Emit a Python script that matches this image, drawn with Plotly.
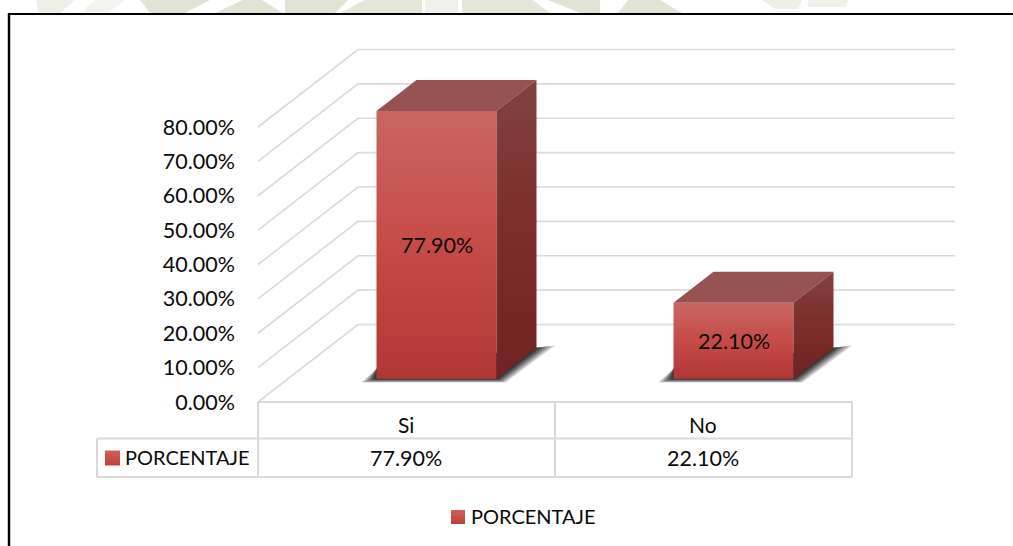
import plotly.graph_objects as go

# ---- data ----
categories = ["Si", "No"]
series_name = "PORCENTAJE"
porcentaje = [77.90, 22.10]
y_ticks = [0, 10, 20, 30, 40, 50, 60, 70, 80]
y_tick_labels = ["0.00%", "10.00%", "20.00%", "30.00%", "40.00%", "50.00%", "60.00%", "70.00%", "80.00%"]

# ---- layout constants ----
W, H = 1013, 546
FONT = "Lato"
FS_NUM = 21.5
FS_WORD = 20
FS_CAT = 21
INK = "#0A0A0A"
GRID = "#DADADA"
CAT_PX = 297.0      # pixels per category
PCT_PX = 3.4375     # pixels per percent
ORIGIN_X, ORIGIN_Y = 258.0, 402.0
DX = 100 / CAT_PX   # oblique projection of the depth axis
DY = 77.5 / PCT_PX
BAR_W = 120 / CAT_PX
D0, D1 = 0.30, 0.70  # depth extent of bars
FRONT = [[0, "#B03735"], [0.5, "#C54B48"], [1, "#C96663"]]
SIDE = [[0, "#6F2322"], [0.55, "#7C2F2C"], [1, "#804340"]]
TOP = "#955250"


def proj(x, y, d):
    return x + d * DX, y + d * DY


def d2x(px):
    return (px - ORIGIN_X) / CAT_PX


def d2y(py):
    return (ORIGIN_Y - py) / PCT_PX


def poly(points, **kw):
    xs = [p[0] for p in points] + [points[0][0]]
    ys = [p[1] for p in points] + [points[0][1]]
    return go.Scatter(x=xs, y=ys, mode="lines", fill="toself", line=dict(width=0),
                      hoverinfo="skip", showlegend=False, **kw)


fig = go.Figure()

# ---- gridlines on back wall and side wall ----
gx, gy = [], []
x_end = len(categories) + 0.01
for t in y_ticks:
    a = proj(0, t, 0)
    b = proj(0, t, 1)
    c = proj(x_end, t, 1)
    gx += [a[0], b[0], c[0], None]
    gy += [a[1], b[1], c[1], None]
fig.add_trace(go.Scatter(x=gx, y=gy, mode="lines", line=dict(color=GRID, width=1.6),
                         hoverinfo="skip", showlegend=False))

# ---- bars ----
sh_px = 1 / CAT_PX
sh_py = 1 / PCT_PX
for i, v in enumerate(porcentaje):
    x0 = i + 0.5 - BAR_W / 2
    x1 = i + 0.5 + BAR_W / 2
    fl = proj(x0, 0, D0)
    fr = proj(x1, 0, D0)
    br = proj(x1, 0, D1)
    # soft shadow on the floor: nested translucent polygons
    for grow, alpha in [(1.1, 0.2), (0.9, 0.25), (0.7, 0.3), (0.5, 0.4), (0.3, 0.5), (0.15, 0.55)]:
        fig.add_trace(poly([
            (fl[0] - 14 * grow * sh_px, fl[1] - 3.5 * grow * sh_py),
            (fl[0], fl[1] + 10 * sh_py),
            (br[0], br[1]),
            (br[0] + 17 * grow * sh_px, br[1] + 2 * grow * sh_py),
            (fr[0] + 8 * grow * sh_px, fr[1] - 3.5 * grow * sh_py),
        ], fillcolor=f"rgba(45,45,45,{alpha})"))
    # top face
    fig.add_trace(poly([proj(x0, v, D0), proj(x1, v, D0), proj(x1, v, D1), proj(x0, v, D1)],
                       fillcolor=TOP))
    # front face
    fig.add_trace(poly([proj(x0, 0, D0), proj(x1, 0, D0), proj(x1, v, D0), proj(x0, v, D0)],
                       fillgradient=dict(type="vertical", colorscale=FRONT)))
    # side face, over the front edge
    fig.add_trace(poly([proj(x1, 0, D0), proj(x1, 0, D1), proj(x1, v, D1), proj(x1, v, D0)],
                       fillgradient=dict(type="vertical", colorscale=SIDE)))
    # data label
    lx, ly = proj(i + 0.5, v / 2, D0)
    fig.add_annotation(x=lx, y=ly, text=f"{v:.2f}%", showarrow=False,
                       font=dict(family=FONT, size=FS_NUM, color=INK))


# ---- data table and legend helpers (page pixels -> paper) ----
def fx(px):
    return px / W


def fy(py):
    return 1 - py / H


def hline(x0, x1, y, color=GRID, width=2):
    fig.add_shape(type="line", xref="paper", yref="paper", x0=fx(x0), x1=fx(x1), y0=fy(y), y1=fy(y),
                  line=dict(color=color, width=width))


def vline(x, y0, y1, color=GRID, width=2):
    fig.add_shape(type="line", xref="paper", yref="paper", x0=fx(x), x1=fx(x), y0=fy(y0), y1=fy(y1),
                  line=dict(color=color, width=width))


def page_text(px, py, text, size):
    fig.add_annotation(xref="paper", yref="paper", x=fx(px), y=fy(py), text=text, showarrow=False,
                       xanchor="center", yanchor="middle",
                       font=dict(family=FONT, size=size, color=INK))


hline(258, 852, 402)
hline(97, 852, 438.5)
hline(97, 852, 477)
vline(97, 438.5, 477)
vline(258, 402, 477)
vline(555, 402, 477)
vline(852, 402, 477)

for i, (c, v) in enumerate(zip(categories, porcentaje)):
    cx = ORIGIN_X + (i + 0.5) * CAT_PX
    page_text(cx - 1, 424, c, FS_CAT)
    page_text(cx - 1, 458, f"{v:.2f}%", FS_NUM)

SWATCH = [[0, "#BE3F3C"], [1, "#D0605D"]]
for sx0, sy0, sz in [(105, 450.5, 15), (451, 510, 14)]:
    fig.add_trace(poly([(d2x(sx0), d2y(sy0 + sz)), (d2x(sx0 + sz), d2y(sy0 + sz)),
                        (d2x(sx0 + sz), d2y(sy0)), (d2x(sx0), d2y(sy0))],
                       fillgradient=dict(type="vertical", colorscale=SWATCH)))
page_text(187, 457, series_name, FS_WORD)
page_text(533, 516, series_name, FS_WORD)

# ---- frame and background scan remnant ----
WM = [
    ("#EFEFE8", [(36, 0), (75, 0), (60, 13), (38, 13)]),
    ("#F4F4EF", [(85, 8), (96, 0), (125, 0), (108, 13), (85, 13)]),
    ("#E2E3D5", [(140, 0), (210, 0), (185, 13), (150, 13)]),
    ("#E2E3D5", [(243, 0), (262, 0), (283, 13), (215, 13)]),
    ("#E2E3D5", [(285, 0), (348, 0), (335, 13), (285, 13)]),
    ("#E5E6DA", [(365, 0), (422, 0), (422, 13), (340, 13)]),
    ("#F1F1EC", [(425, 0), (458, 0), (458, 13), (425, 13)]),
    ("#E5E6DA", [(462, 0), (533, 0), (550, 13), (462, 13)]),
    ("#E2E3D5", [(548, 0), (600, 0), (600, 13), (580, 13)]),
    ("#E2E3D5", [(628, 0), (660, 0), (682, 13), (618, 13)]),
    ("#EEEEE6", [(762, 0), (802, 0), (798, 9), (775, 9)]),
    ("#F1F1EC", [(808, 0), (848, 0), (846, 7), (808, 7)]),
]
for color, pts in WM:
    path = "M " + " L ".join(f"{fx(a):.5f},{fy(b):.5f}" for a, b in pts) + " Z"
    fig.add_shape(type="path", xref="paper", yref="paper", path=path, fillcolor=color,
                  line=dict(width=0), layer="below")
hline(8, W, 14, color="#000000", width=2.2)
vline(9, 13, H, color="#000000", width=2.4)

fig.update_layout(
    width=W, height=H, margin=dict(l=0, r=0, t=0, b=0), autosize=False,
    paper_bgcolor="white", plot_bgcolor="rgba(0,0,0,0)", showlegend=False,
    xaxis=dict(domain=[0, 1], range=[-ORIGIN_X / CAT_PX, (W - ORIGIN_X) / CAT_PX], visible=False, fixedrange=True),
    yaxis=dict(domain=[0, 1], anchor="free", position=ORIGIN_X / W,
               range=[(ORIGIN_Y - H) / PCT_PX, ORIGIN_Y / PCT_PX], tickmode="array",
               tickvals=y_ticks, ticktext=y_tick_labels, showgrid=False, zeroline=False, showline=False,
               ticks="", ticklabelstandoff=23, fixedrange=True,
               tickfont=dict(family=FONT, size=FS_NUM, color=INK)),
)
fig.write_html("out.html", config={"displayModeBar": False},
               post_script="document.body.style.margin='0';document.documentElement.style.overflow='hidden';")
